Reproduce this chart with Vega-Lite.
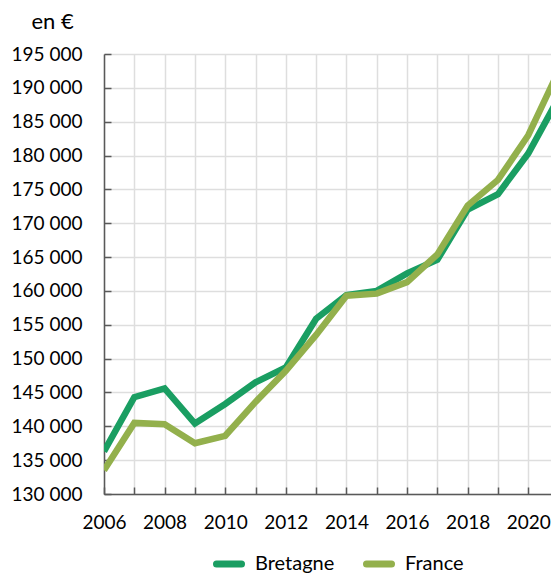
{
  "$schema": "https://vega.github.io/schema/vega-lite/v6.json",
  "autosize": {"type": "none"},
  "padding": {"left": 104, "top": 54, "right": 0, "bottom": 81},
  "width": 447,
  "height": 440,
  "background": "white",
  "config": {
    "font": "Lato",
    "view": {"stroke": null},
    "axis": {
      "labelFont": "Lato",
      "labelFontSize": 19,
      "labelColor": "#000000",
      "gridColor": "#dedede",
      "gridWidth": 1.5,
      "domainColor": "#595959",
      "domainWidth": 1.5,
      "tickColor": "#595959",
      "tickWidth": 1.5
    }
  },
  "data": {
    "values": [
      {"annee": 2006, "zone": "Bretagne", "prix": 136300},
      {"annee": 2007, "zone": "Bretagne", "prix": 144300},
      {"annee": 2008, "zone": "Bretagne", "prix": 145600},
      {"annee": 2009, "zone": "Bretagne", "prix": 140400},
      {"annee": 2010, "zone": "Bretagne", "prix": 143300},
      {"annee": 2011, "zone": "Bretagne", "prix": 146500},
      {"annee": 2012, "zone": "Bretagne", "prix": 148700},
      {"annee": 2013, "zone": "Bretagne", "prix": 155900},
      {"annee": 2014, "zone": "Bretagne", "prix": 159400},
      {"annee": 2015, "zone": "Bretagne", "prix": 160000},
      {"annee": 2016, "zone": "Bretagne", "prix": 162600},
      {"annee": 2017, "zone": "Bretagne", "prix": 164600},
      {"annee": 2018, "zone": "Bretagne", "prix": 172000},
      {"annee": 2019, "zone": "Bretagne", "prix": 174300},
      {"annee": 2020, "zone": "Bretagne", "prix": 180300},
      {"annee": 2021, "zone": "Bretagne", "prix": 188500},
      {"annee": 2006, "zone": "France", "prix": 133500},
      {"annee": 2007, "zone": "France", "prix": 140500},
      {"annee": 2008, "zone": "France", "prix": 140300},
      {"annee": 2009, "zone": "France", "prix": 137500},
      {"annee": 2010, "zone": "France", "prix": 138600},
      {"annee": 2011, "zone": "France", "prix": 143600},
      {"annee": 2012, "zone": "France", "prix": 148200},
      {"annee": 2013, "zone": "France", "prix": 153500},
      {"annee": 2014, "zone": "France", "prix": 159300},
      {"annee": 2015, "zone": "France", "prix": 159600},
      {"annee": 2016, "zone": "France", "prix": 161300},
      {"annee": 2017, "zone": "France", "prix": 165400},
      {"annee": 2018, "zone": "France", "prix": 172600},
      {"annee": 2019, "zone": "France", "prix": 176400},
      {"annee": 2020, "zone": "France", "prix": 183000},
      {"annee": 2021, "zone": "France", "prix": 192500}
    ]
  },
  "mark": {"type": "line", "strokeWidth": 6.5, "clip": true, "strokeJoin": "miter", "strokeCap": "butt"},
  "encoding": {
    "x": {
      "field": "annee",
      "type": "quantitative",
      "scale": {"domain": [2006, 2020.75], "nice": false, "zero": false},
      "axis": {
        "title": null,
        "values": [2006, 2007, 2008, 2009, 2010, 2011, 2012, 2013, 2014, 2015, 2016, 2017, 2018, 2019, 2020],
        "labelExpr": "datum.value % 2 == 0 ? '' + datum.value : ''",
        "tickSize": -7,
        "labelPadding": 26,
        "labelFlush": false
      }
    },
    "y": {
      "field": "prix",
      "type": "quantitative",
      "scale": {"domain": [130000, 195000], "nice": false, "zero": false},
      "axis": {
        "title": "en €",
        "titleAngle": 0,
        "titleAlign": "left",
        "titleBaseline": "alphabetic",
        "titleX": -73,
        "titleY": -26,
        "titleFont": "Lato",
        "titleFontSize": 22,
        "titleFontWeight": "normal",
        "titleColor": "#000000",
        "values": [130000, 135000, 140000, 145000, 150000, 155000, 160000, 165000, 170000, 175000, 180000, 185000, 190000, 195000],
        "labelExpr": "replace(format(datum.value, ','), ',', ' ')",
        "tickSize": -7,
        "labelPadding": 29
      }
    },
    "color": {
      "field": "zone",
      "type": "nominal",
      "scale": {"domain": ["Bretagne", "France"], "range": ["#1a9e62", "#93b04c"]},
      "legend": {
        "title": null,
        "orient": "none",
        "direction": "horizontal",
        "legendX": 109,
        "legendY": 494,
        "symbolType": "stroke",
        "symbolStrokeWidth": 7,
        "symbolSize": 625,
        "labelFont": "Lato",
        "labelFontSize": 20,
        "labelColor": "#000000",
        "columnPadding": 17,
        "labelOffset": 10,
        "encode": {"symbols": {"update": {"strokeCap": {"value": "round"}}}}
      }
    }
  }
}
